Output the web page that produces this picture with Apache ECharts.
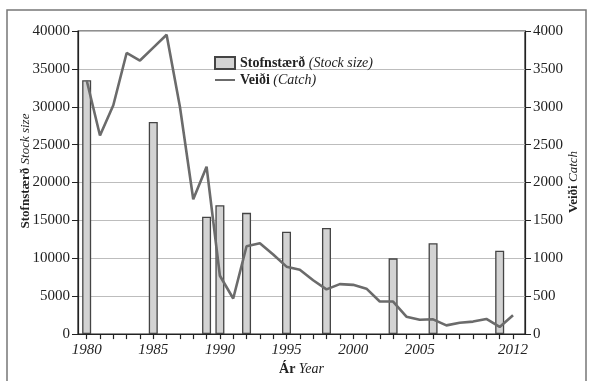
<!DOCTYPE html>
<html>
<head>
<meta charset="utf-8">
<script src="https://cdn.jsdelivr.net/npm/echarts@6/dist/echarts.min.js"></script>
<style>
  html, body { margin: 0; padding: 0; background: #fff; }
  #chart { width: 589px; height: 381px; }
</style>
</head>
<body>
<div id="chart"></div>
<script>
var FONT = '"Liberation Serif", "DejaVu Serif", serif';

// stock size (bars, left axis)
var stockYears = [1980, 1985, 1989, 1990, 1992, 1995, 1998, 2003, 2006, 2011];
var stockValues = [33500, 28000, 15500, 17000, 16000, 13500, 14000, 10000, 12000, 11000];

// catch (line, right axis), one value per year 1980-2012
var catchYears = [1980, 1981, 1982, 1983, 1984, 1985, 1986, 1987, 1988, 1989,
  1990, 1991, 1992, 1993, 1994, 1995, 1996, 1997, 1998, 1999,
  2000, 2001, 2002, 2003, 2004, 2005, 2006, 2007, 2008, 2009,
  2010, 2011, 2012];
var catchValues = [3350, 2620, 3020, 3710, 3610, 3780, 3950, 3000, 1780, 2210,
  770, 470, 1160, 1200, 1050, 890, 850, 710, 590, 660,
  650, 600, 430, 430, 230, 190, 195, 115, 150, 165,
  200, 95, 250];

var xLabelYears = [1980, 1985, 1990, 1995, 2000, 2005, 2012];
var xTickYears = catchYears;

var chart = echarts.init(document.getElementById('chart'), null, { renderer: 'canvas' });

function pairs(xs, ys) {
  return xs.map(function(x, i) { return [x, ys[i]]; });
}

var rich = {
  b: { fontFamily: FONT, fontSize: 14, fontWeight: 'bold', color: '#222' },
  i: { fontFamily: FONT, fontSize: 14, fontStyle: 'italic', color: '#222' }
};
var axisLine = { show: true, lineStyle: { color: '#222', width: 1.2 } };
var axisLabel = {
  color: '#222', fontFamily: FONT, fontSize: 15,
  formatter: function(v) { return String(v); }
};

chart.setOption({
  animation: false,
  backgroundColor: '#fff',
  grid: { left: 78, right: 64, top: 31, bottom: 33, show: true, borderColor: '#222', borderWidth: 1.2 },
  legend: {
    orient: 'vertical',
    left: 209,
    top: 51,
    itemWidth: 20,
    itemHeight: 12,
    itemGap: 3,
    data: [
      { name: 'Stofnstærð', icon: 'rect' },
      { name: 'Veiði', icon: 'path://M0,0 L20,0 L20,2 L0,2 Z' }
    ],
    formatter: function(name) {
      return name === 'Stofnstærð'
        ? '{b|Stofnstærð} {i|(Stock size)}'
        : '{b|Veiði} {i|(Catch)}';
    },
    textStyle: { color: '#222', fontFamily: FONT, fontSize: 14, rich: rich }
  },
  xAxis: {
    type: 'value',
    min: 1979.35,
    max: 2012.9,
    name: '{b|Ár} {i|Year}',
    nameLocation: 'middle',
    nameGap: 27,
    nameTextStyle: { rich: rich },
    axisLine: axisLine,
    axisTick: { show: true, length: 5, lineStyle: { color: '#222', width: 1.2 }, customValues: xTickYears },
    axisLabel: {
      color: '#222', fontFamily: FONT, fontSize: 15, fontStyle: 'italic',
      customValues: xLabelYears,
      formatter: function(v) { return String(v); }
    },
    splitLine: { show: false }
  },
  yAxis: [{
    type: 'value',
    min: 0,
    max: 40000,
    interval: 5000,
    axisLine: axisLine,
    axisTick: { show: true, length: 6, lineStyle: { color: '#222' } },
    axisLabel: axisLabel,
    splitLine: { show: true, lineStyle: { color: '#bdbdbd', width: 1 } }
  }, {
    type: 'value',
    min: 0,
    max: 4000,
    interval: 500,
    position: 'right',
    axisLine: axisLine,
    axisTick: { show: true, length: 6, lineStyle: { color: '#222' } },
    axisLabel: axisLabel,
    splitLine: { show: false }
  }],
  series: [{
    name: 'Stofnstærð',
    type: 'bar',
    yAxisIndex: 0,
    barWidth: 9,
    data: pairs(stockYears, stockValues),
    itemStyle: { color: '#d3d3d3', borderColor: '#444', borderWidth: 1.3 }
  }, {
    name: 'Veiði',
    type: 'line',
    yAxisIndex: 1,
    symbol: 'none',
    data: pairs(catchYears, catchValues),
    lineStyle: { color: '#6b6b6b', width: 2.6 },
    itemStyle: { color: '#6b6b6b' }
  }],
  graphic: [{
    type: 'rect',
    silent: true,
    shape: { x: 7, y: 10, width: 579, height: 420 },
    style: { fill: null, stroke: '#777', lineWidth: 1.5 }
  }, {
    type: 'text',
    silent: true,
    x: 26,
    y: 171,
    rotation: Math.PI / 2,
    style: {
      text: '{b|Stofnstærð} {i|Stock size}',
      align: 'center',
      verticalAlign: 'middle',
      rich: {
        b: { fontFamily: FONT, fontSize: 13, fontWeight: 'bold', fill: '#222' },
        i: { fontFamily: FONT, fontSize: 13, fontStyle: 'italic', fill: '#222' }
      }
    }
  }, {
    type: 'text',
    silent: true,
    x: 574,
    y: 182,
    rotation: Math.PI / 2,
    style: {
      text: '{b|Veiði} {i|Catch}',
      align: 'center',
      verticalAlign: 'middle',
      rich: {
        b: { fontFamily: FONT, fontSize: 13, fontWeight: 'bold', fill: '#222' },
        i: { fontFamily: FONT, fontSize: 13, fontStyle: 'italic', fill: '#222' }
      }
    }
  }]
});
</script>
</body>
</html>
